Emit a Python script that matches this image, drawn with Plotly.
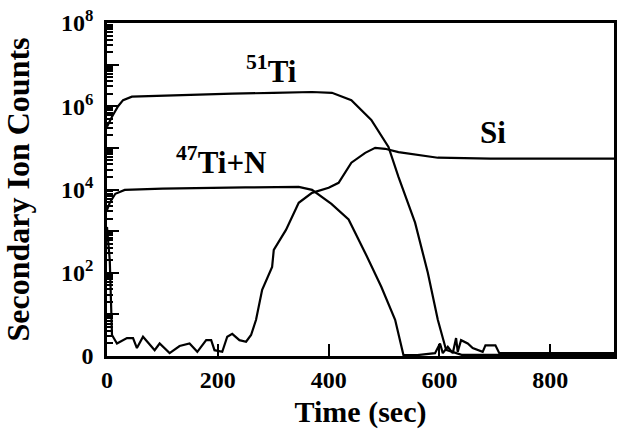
import math
import plotly.graph_objects as go

# ---- data ----
ti51_t = [0, 9, 20, 29, 45, 100, 226, 300, 370, 406, 441, 477, 508, 526, 556, 579, 597, 612, 640, 700, 800, 915]
ti51_c = [3.2e5, 5.6e5, 1.0e6, 1.4e6, 1.7e6, 1.8e6, 2.0e6, 2.1e6, 2.2e6, 2.1e6, 1.4e6, 4.7e5, 1.05e5,
          2.0e4, 1.6e3, 100, 7.4, 1.4, 1.07, 1.07, 1.07, 1.07]

ti47n_t = [0, 5, 15, 32, 100, 167, 250, 346, 370, 405, 436, 466, 495, 520, 535, 560, 592, 601, 606, 615,
           624, 630, 633, 639, 651, 660, 669, 678, 683, 701, 708, 800, 915]
ti47n_c = [3.2e3, 4.8e3, 7.9e3, 9.8e3, 1.05e4, 1.1e4, 1.12e4, 1.15e4, 9.8e3, 4.5e3, 1.9e3, 300, 46, 7.4,
           1.05, 1.05, 1.17, 2.0, 1.17, 1.66, 1.17, 2.7, 1.26, 2.4, 2.0, 1.55, 1.38, 1.26, 1.8, 1.8,
           1.17, 1.17, 1.17]

si_t = [0, 5, 9, 18, 36, 47, 54, 65, 86, 95, 113, 131, 149, 163, 179, 188, 194, 208, 217, 226, 239, 251,
        260, 269, 280, 298, 301, 323, 346, 370, 400, 418, 441, 466, 484, 502, 526, 597, 692, 795, 915]
si_c = [1260, 200, 3.2, 2.0, 2.7, 2.7, 1.55, 2.9, 1.38, 2.0, 1.17, 1.74, 2.0, 1.26, 2.4, 2.4, 1.38, 1.26,
        2.9, 3.4, 2.4, 2.2, 3.2, 7.4, 39, 138, 355, 1070, 4800, 8300, 1.1e4, 1.45e4, 4.4e4, 7.6e4, 1.0e5,
        9.5e4, 7.9e4, 5.8e4, 5.5e4, 5.5e4, 5.5e4]

y_tickvals = [1, 1e2, 1e4, 1e6, 1e8]
y_ticktext = ["0", "10<sup>2</sup>", "10<sup>4</sup>", "10<sup>6</sup>", "10<sup>8</sup>"]
y_unlabeled = [1e1, 1e3, 1e5, 1e7]
x_tickvals = [0, 200, 400, 600, 800]

labels = [("<sup>51</sup>Ti", 296, 7.5e6), ("<sup>47</sup>Ti+N", 206, 5.1e4), ("Si", 696, 2.3e5)]

FONT = "Liberation Serif"

fig = go.Figure()
line = dict(color="black", width=2.2)
fig.add_trace(go.Scatter(x=ti51_t, y=ti51_c, mode="lines", line=line, name="51Ti"))
fig.add_trace(go.Scatter(x=ti47n_t, y=ti47n_c, mode="lines", line=line, name="47Ti+N"))
fig.add_trace(go.Scatter(x=si_t, y=si_c, mode="lines", line=line, name="Si"))
# empty helper trace so the overlay axis (odd-decade ticks without labels) is drawn
fig.add_trace(go.Scatter(x=[], y=[], yaxis="y2", mode="lines", showlegend=False, hoverinfo="skip"))

minor_vals = [m * 10 ** d for d in range(8) for m in range(2, 10)]

for txt, x, y in labels:
    # annotations on a log axis are placed in log10 units
    fig.add_annotation(x=x, y=math.log10(y), text=txt, showarrow=False, xanchor="center", yanchor="middle",
                       font=dict(family=FONT, size=31, color="black", weight="bold"))

fig.update_layout(
    width=621, height=431,
    margin=dict(l=107, r=4, t=23, b=75),
    paper_bgcolor="white", plot_bgcolor="white",
    showlegend=False,
    font=dict(family=FONT, color="black"),
    xaxis=dict(
        range=[0, 915], tickmode="array", tickvals=x_tickvals,
        ticks="inside", ticklen=12, tickwidth=2, tickcolor="black",
        showline=True, linewidth=2.5, linecolor="black", mirror=True,
        showgrid=False, zeroline=False,
        tickfont=dict(family=FONT, size=24, color="black", weight="bold"),
        title=dict(text="Time (sec)", font=dict(family=FONT, size=30, color="black", weight="bold"), standoff=10),
    ),
    yaxis=dict(
        type="log", range=[0, 8], tickmode="array", tickvals=y_tickvals, ticktext=y_ticktext,
        ticks="inside", ticklen=12, tickwidth=2, tickcolor="black",
        minor=dict(tickvals=minor_vals, ticks="inside", ticklen=6, tickwidth=1.5, tickcolor="black", showgrid=False),
        showline=True, linewidth=2.5, linecolor="black", mirror=True,
        showgrid=False, zeroline=False,
        ticklabelstandoff=6,
        tickfont=dict(family=FONT, size=24, color="black", weight="bold"),
        title=dict(text="Secondary Ion Counts", font=dict(family=FONT, size=32, color="black", weight="bold"), standoff=22),
    ),
    yaxis2=dict(
        type="log", range=[0, 8], overlaying="y", side="left", anchor="x",
        tickmode="array", tickvals=y_unlabeled, showticklabels=False,
        ticks="inside", ticklen=12, tickwidth=2, tickcolor="black",
        showline=False, showgrid=False, zeroline=False,
    ),
)

fig.write_html("out.html")
